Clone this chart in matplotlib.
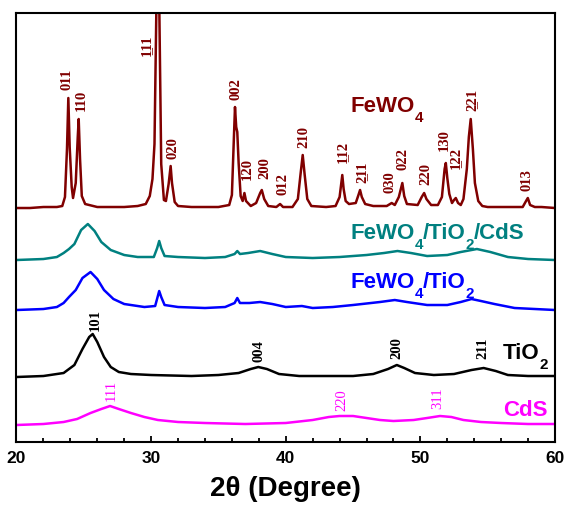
import matplotlib
matplotlib.use("Agg")
import matplotlib.pyplot as plt

plt.rcParams['font.family'] = ['Liberation Sans', 'DejaVu Sans']

# ---- XRD patterns (2theta in degree, intensity above each trace's baseline, a.u.) ----
fewo4_tt = [20, 21, 22, 23, 23.4, 23.6, 23.75, 23.85, 23.95, 24.1, 24.2, 24.4, 24.55,
            24.62, 24.72, 24.85, 25.1, 26, 27, 28, 29, 29.6, 29.9, 30.1, 30.25, 30.4,
            30.5, 30.6, 30.75, 30.95, 31.1, 31.3, 31.45, 31.55, 31.75, 32, 33, 34, 35,
            35.8, 36.0, 36.15, 36.23, 36.32, 36.4, 36.5, 36.65, 36.8, 36.93, 37.05,
            37.4, 37.8, 38.1, 38.22, 38.4, 38.7, 39.3, 39.58, 39.8, 40.5, 40.9, 41.1,
            41.26, 41.4, 41.6, 41.9, 43, 43.7, 44.0, 44.2, 44.3, 44.45, 44.7, 45.2,
            45.4, 45.52, 45.65, 45.9, 46.5, 47.5, 47.87, 48.1, 48.4, 48.66, 48.8, 49.0,
            49.8, 50.1, 50.28, 50.45, 50.8, 51.3, 51.6, 51.8, 51.89, 52.0, 52.15, 52.35,
            52.5, 52.63, 52.8, 53.0, 53.2, 53.45, 53.6, 53.74, 53.9, 54.05, 54.3, 54.6,
            55, 56, 57, 57.6, 57.85, 57.98, 58.15, 58.5, 59, 60]
fewo4_int = [1, 1, 2, 2, 3, 12, 60, 111, 62, 22, 11, 26, 72,
             90, 50, 13, 5, 2, 2, 2, 3, 5, 13, 30, 65, 210,
             290, 210, 45, 9, 8, 25, 43, 26, 7, 3, 2, 2, 2,
             4, 14, 72, 102, 82, 77, 46, 13, 8, 16, 8,
             3, 6, 16, 19, 10, 3, 2, 5, 2, 2, 10, 35,
             54, 35, 10, 3, 2, 3, 12, 34, 20, 8, 5, 6,
             14, 19, 12, 5, 3, 3, 6, 4, 12, 26, 13, 5,
             4, 12, 16, 10, 4, 4, 12, 40, 46, 31, 15, 6,
             9, 11, 6, 4, 10, 40, 72, 90, 60, 26, 8, 3,
             2, 2, 2, 2, 8, 11, 4, 2, 2, 1]

tfc_tt = [20, 22, 23, 23.5, 23.9, 24.3, 24.8, 25.3, 25.8, 26.3, 27, 28, 29, 30.2,
          30.45, 30.6, 30.75, 31, 32, 34, 35.5, 36.2, 36.4, 36.6, 37.2, 38.1, 39, 40,
          42, 44, 46, 47.3, 48.3, 49.3, 50.5, 52, 53, 54.2, 55.2, 56.5, 58, 60]
tfc_int = [0, 1, 3, 7, 11, 16, 30, 36, 29, 18, 10, 5, 3, 3,
           12, 19, 12, 4, 3, 2, 3, 6, 9, 6, 7, 9, 6, 3,
           2, 3, 5, 7, 9, 7, 4, 5, 8, 11, 8, 3, 1, 0]

ft_tt = [20, 22, 23, 23.5, 23.9, 24.4, 24.9, 25.5, 26, 26.5, 27.2, 28, 29.5, 30.3,
         30.5, 30.6, 30.75, 31, 32, 34, 35.5, 36.2, 36.4, 36.6, 37.3, 38.1, 39, 40,
         41.2, 42, 43.5, 45, 47, 48.1, 49, 50.5, 52, 53, 53.8, 54.5, 55.5, 57, 60]
ft_int = [0, 1, 3, 7, 13, 20, 32, 38, 31, 20, 11, 6, 3, 4,
          14, 19, 13, 5, 3, 2, 3, 7, 12, 7, 7, 8, 6, 3,
          4, 2, 3, 5, 8, 10, 8, 5, 5, 8, 11, 9, 6, 2, 0]

tio2_tt = [20, 22, 23.5, 24.3, 24.9, 25.4, 25.66, 26.0, 26.5, 27.0, 27.6, 28.5, 30, 33,
           35, 36.5, 37.4, 37.96, 38.6, 39.5, 41, 45, 46.5, 47.6, 48.25, 48.8, 49.6,
           51, 52.5, 53.8, 54.7, 55.6, 56.5, 58, 60]
tio2_int = [0, 1, 4, 12, 28, 40, 43, 35, 20, 10, 5, 3, 2, 1,
            2, 4, 8, 10, 8, 3, 1, 1, 3, 8, 12, 9, 4,
            2, 3, 7, 9, 6, 2, 1, 1]

cds_tt = [20, 22, 23.5, 24.5, 25.5, 26.3, 26.95, 27.6, 28.5, 29.5, 30.5, 32, 34, 37,
          40, 42, 43.2, 44, 45, 46, 47, 48, 49.5, 50.5, 51.46, 52.3, 53.2, 54.5, 56,
          58, 60]
cds_int = [0, 1, 3, 6, 12, 16, 19, 16, 12, 8, 5, 3, 2, 1,
           2, 5, 8, 9, 9, 7, 5, 4, 5, 7, 9, 8, 5, 3, 2,
           1, 1]

# vertical offsets of the stacked traces
offsets = [233, 182, 132, 65, 17]
colors = ['#800000', '#008080', '#0000ff', '#000000', '#ff00ff']

# sample names split into (text, is_subscript) pieces
sample_names = [
    [('FeWO', False), ('4', True)],
    [('FeWO', False), ('4', True), ('/TiO', False), ('2', True), ('/CdS', False)],
    [('FeWO', False), ('4', True), ('/TiO', False), ('2', True)],
    [('TiO', False), ('2', True)],
    [('CdS', False)],
]
name_x = [44.8, 44.78, 44.78, 56.12, 56.12]
name_y = [331, 204, 155, 84, 27]

# Miller indices (first character underlined where marked)
U = '\u0332'
fewo4_hkl = ['011', '110', '1' + U + '11', '020', '002', '120', '200', '012', '210',
             '1' + U + '12', '2' + U + '11', '030', '022', '220', '130', '1' + U + '22',
             '2' + U + '21', '013']
fewo4_hkl_x = [23.72, 24.84, 29.67, 31.63, 36.31, 37.13, 38.46, 39.78, 41.36,
               44.23, 45.65, 47.75, 48.69, 50.40, 51.76, 52.63, 53.82, 57.93]
fewo4_hkl_y = [364, 343, 398, 295, 354, 274, 275, 259, 306,
               291, 271, 261, 284, 269, 303, 285, 343, 263]

tio2_hkl = ['101', '004', '200', '211']
tio2_hkl_x = [25.83, 38.02, 48.29, 54.66]
tio2_hkl_y = [123, 92, 95, 95]

cds_hkl = ['111', '220', '311']
cds_hkl_x = [27.02, 44.2, 51.26]
cds_hkl_y = [53, 43, 45]

fig = plt.figure(figsize=(5.65, 5.06), dpi=100)
ax = fig.add_axes([0.0292, 0.1245, 0.9531, 0.8478])

traces = [(fewo4_tt, fewo4_int), (tfc_tt, tfc_int), (ft_tt, ft_int),
          (tio2_tt, tio2_int), (cds_tt, cds_int)]
for (tt, inten), off, c in zip(traces, offsets, colors):
    ax.plot(tt, [v + off for v in inten], color=c, lw=1.8)


def draw_name(x, y, pieces, color, size=16, sub_size=11, drop=5.5):
    # chain the pieces left to right; subscripts sit lower and smaller
    t = ax.text(x, y, pieces[0][0], color=color, fontsize=size,
                fontweight='bold', ha='left', va='baseline')
    prev_sub = pieces[0][1]
    for s, sub in pieces[1:]:
        dy = 0
        if sub and not prev_sub:
            dy = -drop
        elif prev_sub and not sub:
            dy = drop
        t = ax.annotate(s, xy=(1, 0), xycoords=t, xytext=(0, dy),
                        textcoords='offset points', color=color,
                        fontsize=sub_size if sub else size, fontweight='bold',
                        ha='left', va='bottom')
        prev_sub = sub


for pieces, x, y, c in zip(sample_names, name_x, name_y, colors):
    draw_name(x, y, pieces, c)

serif = ['Liberation Serif', 'DejaVu Serif']
for lab, x, y in zip(fewo4_hkl, fewo4_hkl_x, fewo4_hkl_y):
    ax.text(x, y, lab, color=colors[0], rotation=90, ha='center', va='center',
            fontsize=10.5, fontweight='bold', family=serif)
for lab, x, y in zip(tio2_hkl, tio2_hkl_x, tio2_hkl_y):
    ax.text(x, y, lab, color=colors[3], rotation=90, ha='center', va='center',
            fontsize=10.5, fontweight='bold', family=serif)
for lab, x, y in zip(cds_hkl, cds_hkl_x, cds_hkl_y):
    ax.text(x, y, lab, color=colors[4], rotation=90, ha='center', va='center',
            fontsize=10.5, family=serif)

ax.set_xlim(20, 60)
ax.set_ylim(0, 429)
ax.set_yticks([])
ax.set_xticks(range(20, 61, 10))
ax.set_xticks(range(20, 61, 2), minor=True)
ax.tick_params(axis='x', which='both', direction='in', top=False, width=1.3,
               labelsize=12.5, pad=6)
ax.tick_params(axis='x', which='major', length=4)
ax.tick_params(axis='x', which='minor', length=3)
for lbl in ax.get_xticklabels():
    lbl.set_fontweight('bold')
for s in ax.spines.values():
    s.set_linewidth(1.5)

ax.set_xlabel('2\u03b8 (Degree)', fontsize=20, fontweight='bold', labelpad=7)

fig.savefig('out.png', dpi=100)
